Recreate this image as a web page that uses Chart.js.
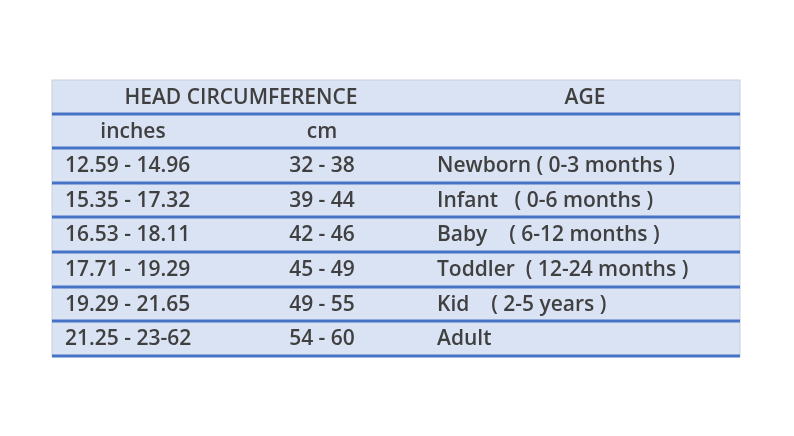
<!DOCTYPE html>
<html>
<head>
<meta charset="utf-8">
<script src="https://cdn.jsdelivr.net/npm/chart.js@4"></script>
<style>
  html, body { margin: 0; padding: 0; background: #fff; }
  #wrap { width: 794px; height: 436px; }
</style>
</head>
<body>
<div id="wrap"><canvas id="tbl"></canvas></div>
<script>
// table content
const headers = ['HEAD CIRCUMFERENCE', 'AGE'];
const subHeaders = ['inches', 'cm', ''];
const inches = ['12.59 - 14.96', '15.35 - 17.32', '16.53 - 18.11', '17.71 - 19.29', '19.29 - 21.65', '21.25 - 23-62'];
const cm = ['32 - 38', '39 - 44', '42 - 46', '45 - 49', '49 - 55', '54 - 60'];
const ages = ['Newborn ( 0-3 months )', 'Infant   ( 0-6 months )', 'Baby    ( 6-12 months )', 'Toddler  ( 12-24 months )', 'Kid    ( 2-5 years )', 'Adult'];

// row boundaries on the page scale
const rowEdges = [80, 114, 148, 183, 217, 252, 287, 321, 356];
const tableLeft = 52, tableRight = 740;

const cells = [];
inches.forEach((v, i) => {
    cells.push({ x: 65, y: i + 2, text: v, align: 'left' });
    cells.push({ x: 322, y: i + 2, text: cm[i], align: 'center' });
    cells.push({ x: 437, y: i + 2, text: ages[i], align: 'left' });
});
cells.push({ x: 241, y: 0, text: headers[0], align: 'center' });
cells.push({ x: 585, y: 0, text: headers[1], align: 'center' });
cells.push({ x: 133, y: 1, text: subHeaders[0], align: 'center' });
cells.push({ x: 322, y: 1, text: subHeaders[1], align: 'center' });

const tablePlugin = {
    id: 'tablePlugin',
    beforeDatasetsDraw(chart) {
        const { ctx, scales: { x, y } } = chart;
        const l = x.getPixelForValue(tableLeft), r = x.getPixelForValue(tableRight);
        const top = y.getPixelForValue(rowEdges[0]);
        const bottom = y.getPixelForValue(rowEdges[rowEdges.length - 1]);
        ctx.save();
        ctx.fillStyle = '#dae3f3';
        ctx.fillRect(l, top, r - l, bottom - top);
        ctx.strokeStyle = '#c9d0dc';
        ctx.lineWidth = 1;
        ctx.strokeRect(l, top, r - l, bottom - top);
        ctx.strokeStyle = '#4472c4';
        ctx.lineWidth = 3;
        rowEdges.slice(1).forEach(e => {
            const py = y.getPixelForValue(e);
            ctx.beginPath(); ctx.moveTo(l, py); ctx.lineTo(r, py); ctx.stroke();
        });
        ctx.fillStyle = '#404040';
        ctx.font = '600 21px "Open Sans", "Noto Sans", sans-serif';
        ctx.textBaseline = 'middle';
        cells.forEach(c => {
            const py = y.getPixelForValue((rowEdges[c.y] + rowEdges[c.y + 1]) / 2);
            ctx.textAlign = c.align;
            ctx.fillText(c.text, x.getPixelForValue(c.x), py + 1);
        });
        ctx.restore();
    }
};

new Chart(document.getElementById('tbl'), {
    type: 'scatter',
    data: { datasets: [{ data: cells.map(c => ({ x: c.x, y: rowEdges[c.y] })), pointRadius: 0 }] },
    options: {
        responsive: true,
        maintainAspectRatio: false,
        animation: false,
        layout: { padding: 0 },
        plugins: { legend: { display: false }, tooltip: { enabled: false } },
        scales: {
            x: { type: 'linear', min: 0, max: 794, display: false },
            y: { type: 'linear', min: 0, max: 436, reverse: true, display: false }
        }
    },
    plugins: [tablePlugin]
});
</script>
</body>
</html>
